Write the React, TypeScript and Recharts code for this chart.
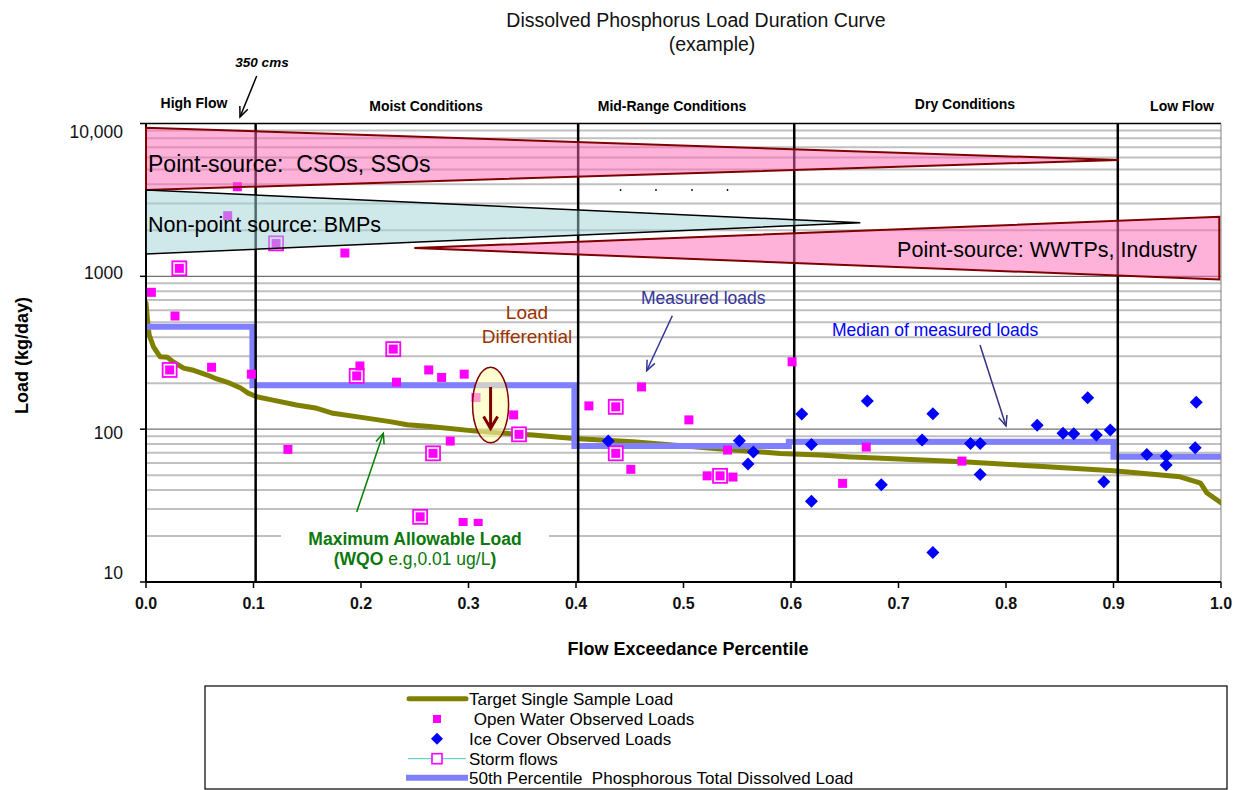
import React from 'react';
import { ComposedChart, Line, Scatter, XAxis, YAxis, ReferenceLine, ReferenceArea } from 'recharts';

const FONT = "'Liberation Sans', Arial, Helvetica, sans-serif";

// axis ticks
const X_TICKS = [0, 0.1, 0.2, 0.3, 0.4, 0.5, 0.6, 0.7, 0.8, 0.9, 1.0];
const Y_TICKS = [10, 100, 1000, 10000];
const MINOR_GRID = [20, 30, 40, 50, 60, 70, 80, 90, 200, 300, 400, 500, 600, 700, 800, 900, 2000, 3000, 4000, 5000, 6000, 7000, 8000, 9000];
const MAJOR_GRID = [100, 1000];

// flow zone boundaries
const ZONE_BOUNDS = [0.102, 0.402, 0.603, 0.904];
const ZONE_NAMES = ['High Flow', 'Moist Conditions', 'Mid-Range Conditions', 'Dry Conditions', 'Low Flow'];

// target single sample load (duration curve)
const TARGET_X = [0, 0.002, 0.003, 0.007, 0.013, 0.02, 0.025, 0.035, 0.043, 0.057, 0.066, 0.078, 0.088, 0.095, 0.103, 0.118, 0.14, 0.159, 0.174, 0.202, 0.227, 0.243, 0.264, 0.314, 0.36, 0.398, 0.453, 0.546, 0.59, 0.627, 0.652, 0.76, 0.838, 0.9, 0.962, 0.981, 0.987, 1.0];
const TARGET_Y = [669, 466, 413, 346, 298, 295, 276, 251, 244, 226, 213, 200, 186, 172, 163, 155, 144, 137, 127, 119, 112, 107, 104, 96, 91.5, 87, 82.7, 73, 69.4, 67.7, 66, 61.2, 56.7, 53.4, 48.8, 44.4, 38.2, 33];

// 50th percentile per zone
const MEDIAN_X = [0, 0.099, 0.3985, 0.598, 0.9, 1.0];
const MEDIAN_Y = [467, 194, 77.5, 82.7, 66, 66];

// open water observed loads
const OW_X = [0.005, 0.027, 0.022, 0.031, 0.061, 0.076, 0.085, 0.098, 0.121, 0.132, 0.185, 0.199, 0.196, 0.23, 0.233, 0.255, 0.263, 0.275, 0.267, 0.283, 0.296, 0.295, 0.309, 0.307, 0.342, 0.347, 0.412, 0.437, 0.437, 0.461, 0.451, 0.505, 0.522, 0.534, 0.546, 0.541, 0.601, 0.648, 0.67, 0.759];
const OW_Y = [786, 550, 244, 1128, 254, 2494, 3858, 229, 1644, 73.8, 1421, 259, 223, 334, 203, 26.7, 244, 218, 69.5, 83.6, 229, 24.5, 24.2, 161, 124, 92.5, 142, 140, 69.5, 189, 54.6, 115, 49.5, 49.5, 48.6, 73, 276, 44.2, 76.3, 61.8];

// storm flows
const STORM_X = [0.022, 0.031, 0.121, 0.196, 0.23, 0.255, 0.267, 0.347, 0.437, 0.437, 0.534];
const STORM_Y = [244, 1128, 1644, 223, 334, 26.7, 69.5, 92.5, 140, 69.5, 49.5];

// ice cover observed loads
const ICE_X = [0.43, 0.552, 0.565, 0.56, 0.61, 0.619, 0.619, 0.671, 0.684, 0.722, 0.732, 0.732, 0.767, 0.776, 0.776, 0.829, 0.853, 0.863, 0.876, 0.884, 0.891, 0.897, 0.931, 0.949, 0.949, 0.976, 0.977];
const ICE_Y = [83.6, 84, 70.8, 59.1, 125.6, 79.5, 33.8, 153, 43.3, 84.9, 126, 15.6, 80.7, 80.7, 50.6, 106, 93.9, 93.3, 160.5, 91.5, 45.3, 98.6, 68.4, 66.7, 58.2, 75.6, 150];

// source wedges (x, load)
const CSO_X = [0, 0.9045, 0];
const CSO_Y = [9387, 5769, 3671];
const NPS_X = [0, 0.6645, 0];
const NPS_Y = [3671, 2239, 1400];
const WWTP_X = [0.2496, 0.9984, 0.9984];
const WWTP_Y = [1531, 2450, 953];

// load differential ellipse extent
const DIFF_X = [0.3038, 0.3373];
const DIFF_Y = [81.5, 253.8];

const zip = (xs: number[], ys: number[]) => xs.map((x, i) => ({ x, y: ys[i] }));

const l10 = Math.log10;

function wedge(xs: number[], ys: number[], fill: string, stroke: string, sw: number) {
  const x1 = Math.min(...xs), x2 = Math.max(...xs);
  const y1 = Math.min(...ys), y2 = Math.max(...ys);
  return (p: any) => {
    const pts = xs
      .map((vx, i) => {
        const px = p.x + ((vx - x1) / (x2 - x1)) * p.width;
        const py = p.y + ((l10(y2) - l10(ys[i])) / (l10(y2) - l10(y1))) * p.height;
        return `${px},${py}`;
      })
      .join(' ');
    return <polygon points={pts} fill={fill} fillOpacity={0.5} stroke={stroke} strokeWidth={sw} strokeLinejoin="miter" />;
  };
}

function ellipseShape(p: any) {
  const cx = p.x + p.width / 2;
  const cy = p.y + p.height / 2;
  const top = p.y + p.height * 0.26;
  const bot = p.y + p.height * 0.81;
  return (
    <g>
      <ellipse cx={cx} cy={cy} rx={p.width / 2} ry={p.height / 2} fill="#ffffb0" fillOpacity={0.6} stroke="#800000" strokeWidth={1.5} />
      <line x1={cx} y1={top} x2={cx} y2={bot} stroke="#800000" strokeWidth={3} />
      <polyline points={`${cx - 7},${bot - 12} ${cx},${bot} ${cx + 7},${bot - 12}`} fill="none" stroke="#800000" strokeWidth={3} />
    </g>
  );
}

const Y_SHIFT: Record<number, number> = { 10000: 8, 1000: -3.5, 100: 4, 10: -9.5 };

function YTick(props: any) {
  const { x, y, payload } = props;
  const v = payload.value;
  return (
    <text x={x} y={y + (Y_SHIFT[v] ?? 0)} dy={6.3} textAnchor="end" fontSize={17.5} fontFamily={FONT} fill="#111">
      {v === 10000 ? '10,000' : String(v)}
    </text>
  );
}

function XTick(props: any) {
  const { x, y, payload } = props;
  return (
    <text x={x} y={y} dy={19} textAnchor="middle" fontSize={16} fontWeight="bold" fontFamily={FONT} fill="#111">
      {payload.value.toFixed(1)}
    </text>
  );
}

const square = (p: any) => <rect x={p.cx - 4.5} y={p.cy - 4.5} width={9} height={9} fill="#ff00ff" />;
const stormBox = (p: any) => <rect x={p.cx - 7} y={p.cy - 7} width={14} height={14} fill="#fff" stroke="#ff00ff" strokeWidth={1.8} />;
const diamond = (p: any) => (
  <polygon points={`${p.cx},${p.cy - 6.5} ${p.cx + 6.5},${p.cy} ${p.cx},${p.cy + 6.5} ${p.cx - 6.5},${p.cy}`} fill="#0000ff" />
);

function Arrow({ x1, y1, x2, y2, color, w = 1.5, head = 11 }: any) {
  const a = Math.atan2(y2 - y1, x2 - x1);
  const h1x = x2 - head * Math.cos(a - 0.4);
  const h1y = y2 - head * Math.sin(a - 0.4);
  const h2x = x2 - head * Math.cos(a + 0.4);
  const h2y = y2 - head * Math.sin(a + 0.4);
  return (
    <g stroke={color} strokeWidth={w} fill="none">
      <line x1={x1} y1={y1} x2={x2} y2={y2} />
      <polyline points={`${h1x},${h1y} ${x2},${y2} ${h2x},${h2y}`} />
    </g>
  );
}

const ZONE_LABEL_POS = [
  [194, 108],
  [426, 111],
  [672, 111],
  [965, 109],
  [1182, 111],
];

export default function App() {
  const target = zip(TARGET_X, TARGET_Y);
  const median = zip(MEDIAN_X, MEDIAN_Y);
  const openWater = zip(OW_X, OW_Y);
  const storm = zip(STORM_X, STORM_Y);
  const ice = zip(ICE_X, ICE_Y);

  const legendRows = [
    { y: 698.7, label: 'Target Single Sample Load', kind: 'target' },
    { y: 719, label: ' Open Water Observed Loads', kind: 'ow' },
    { y: 738.7, label: 'Ice Cover Observed Loads', kind: 'ice' },
    { y: 758.7, label: 'Storm flows', kind: 'storm' },
    { y: 777.7, label: '50th Percentile  Phosphorous Total Dissolved Load', kind: 'median' },
  ];

  return (
    <div style={{ position: 'absolute', left: 0, top: 0, width: 1239, height: 790, background: '#fff', fontFamily: FONT }}>
      <ComposedChart width={1239} height={790} margin={{ top: 123.5, right: 18, bottom: 178, left: 86 }}>
        <XAxis
          type="number"
          dataKey="x"
          domain={[0, 1]}
          ticks={X_TICKS}
          allowDataOverflow
          height={30}
          tickSize={6}
          tickMargin={2}
          tick={<XTick />}
          axisLine={{ stroke: '#000', strokeWidth: 2 }}
          tickLine={{ stroke: '#000', strokeWidth: 1.5 }}
        />
        <YAxis
          type="number"
          scale="log"
          domain={[10, 10000]}
          ticks={Y_TICKS}
          allowDataOverflow
          width={60}
          tickSize={6}
          tickMargin={17}
          tick={<YTick />}
          axisLine={{ stroke: '#000', strokeWidth: 2 }}
          tickLine={{ stroke: '#000', strokeWidth: 1.5 }}
        />
        {MINOR_GRID.map((v) => (
          <ReferenceLine key={'mg' + v} y={v} stroke="#c0c0c0" strokeWidth={2} zIndex={-100} />
        ))}
        {MAJOR_GRID.map((v) => (
          <ReferenceLine key={'Mg' + v} y={v} stroke="#707070" strokeWidth={1.3} zIndex={-90} />
        ))}
        <ReferenceLine y={10000} stroke="#000" strokeWidth={1.5} zIndex={-80} />
        <ReferenceLine x={1} stroke="#808080" strokeWidth={1} zIndex={-80} />
        <Line
          data={target}
          dataKey="y"
          type="linear"
          stroke="#808000"
          strokeWidth={5}
          strokeLinejoin="round"
          strokeLinecap="round"
          dot={false}
          activeDot={false}
          isAnimationActive={false}
          zIndex={400}
        />
        <Line
          data={median}
          dataKey="y"
          type="stepAfter"
          stroke="#8080ff"
          strokeWidth={6}
          dot={false}
          activeDot={false}
          isAnimationActive={false}
          zIndex={410}
        />
        {ZONE_BOUNDS.map((v) => (
          <ReferenceLine key={'z' + v} x={v} stroke="#000" strokeWidth={2.5} zIndex={450} />
        ))}
        <Scatter data={storm} dataKey="y" shape={stormBox} isAnimationActive={false} zIndex={600} />
        <Scatter data={openWater} dataKey="y" shape={square} isAnimationActive={false} zIndex={610} />
        <Scatter data={ice} dataKey="y" shape={diamond} isAnimationActive={false} zIndex={620} />
        <ReferenceArea
          x1={Math.min(...CSO_X)}
          x2={Math.max(...CSO_X)}
          y1={Math.min(...CSO_Y)}
          y2={Math.max(...CSO_Y)}
          shape={wedge(CSO_X, CSO_Y, '#ff66b3', '#800000', 2)}
          zIndex={700}
        />
        <ReferenceArea
          x1={Math.min(...NPS_X)}
          x2={Math.max(...NPS_X)}
          y1={Math.min(...NPS_Y)}
          y2={Math.max(...NPS_Y)}
          shape={wedge(NPS_X, NPS_Y, '#a0d4d8', '#000', 1.5)}
          zIndex={701}
        />
        <ReferenceArea
          x1={Math.min(...WWTP_X)}
          x2={Math.max(...WWTP_X)}
          y1={Math.min(...WWTP_Y)}
          y2={Math.max(...WWTP_Y)}
          shape={wedge(WWTP_X, WWTP_Y, '#ff66b3', '#800000', 2)}
          zIndex={702}
        />
        <ReferenceArea x1={DIFF_X[0]} x2={DIFF_X[1]} y1={DIFF_Y[0]} y2={DIFF_Y[1]} shape={ellipseShape} zIndex={710} />
      </ComposedChart>

      <svg width={1239} height={790} style={{ position: 'absolute', left: 0, top: 0, pointerEvents: 'none' }} fontFamily={FONT}>
        {/* titles */}
        <text x={696} y={27} textAnchor="middle" fontSize={19.5} fill="#111">
          Dissolved Phosphorus Load Duration Curve
        </text>
        <text x={712} y={51} textAnchor="middle" fontSize={19.5} fill="#111">
          (example)
        </text>

        {/* zone labels */}
        {ZONE_NAMES.map((n, i) => (
          <text key={n} x={ZONE_LABEL_POS[i][0]} y={ZONE_LABEL_POS[i][1]} textAnchor="middle" fontSize={14} fontWeight="bold" fill="#000">
            {n}
          </text>
        ))}
        <text x={262} y={67} textAnchor="middle" fontSize={13.5} fontStyle="italic" fontWeight="bold" fill="#000">
          350 cms
        </text>
        <Arrow x1={256.7} y1={76} x2={240} y2={117} color="#000" />

        {/* wedge labels */}
        <text x={148} y={171.5} fontSize={23} fill="#000" style={{ whiteSpace: 'pre' }}>
          {'Point-source:  CSOs, SSOs'}
        </text>
        <text x={148} y={231.5} fontSize={21.5} fill="#000">
          Non-point source: BMPs
        </text>
        <text x={1197} y={257} textAnchor="end" fontSize={21.5} fill="#000">
          Point-source: WWTPs, Industry
        </text>
        {[620.6, 656, 692, 727.5].map((x) => (
          <circle key={x} cx={x} cy={190} r={0.9} fill="#000" />
        ))}

        {/* annotations */}
        <text x={527} y={319.3} textAnchor="middle" fontSize={19} fill="#993300">
          Load
        </text>
        <text x={527} y={343.3} textAnchor="middle" fontSize={19} fill="#993300">
          Differential
        </text>
        <text x={641} y={304.3} fontSize={17.5} fill="#333399">
          Measured loads
        </text>
        <Arrow x1={672.3} y1={315.7} x2={646.7} y2={370.7} color="#333399" />
        <text x={832} y={336} fontSize={17.5} fill="#0000ff">
          Median of measured loads
        </text>
        <Arrow x1={980} y1={345} x2={1006} y2={426} color="#333380" />

        <rect x={281} y={526} width={268} height={46} fill="#fff" />
        <text x={415} y={545} textAnchor="middle" fontSize={17.5} fontWeight="bold" fill="#0a780a">
          Maximum Allowable Load
        </text>
        <text x={415} y={565} textAnchor="middle" fontSize={17.5} fill="#0a780a">
          <tspan fontWeight="bold">(WQO</tspan>
          <tspan> e.g,0.01 ug/L</tspan>
          <tspan fontWeight="bold">)</tspan>
        </text>
        <Arrow x1={356.7} y1={512} x2={383.3} y2={433.3} color="#008000" />

        {/* axis titles */}
        <text x={28} y={355.5} transform="rotate(-90, 28, 355.5)" textAnchor="middle" fontSize={18} fontWeight="bold" fill="#000">
          Load (kg/day)
        </text>
        <text x={688} y={655} textAnchor="middle" fontSize={18} fontWeight="bold" fill="#000">
          Flow Exceedance Percentile
        </text>

        {/* legend */}
        <rect x={205} y={686} width={1022} height={103} fill="#fff" stroke="#000" strokeWidth={1.2} />
        {legendRows.map((r) => (
          <g key={r.kind}>
            {r.kind === 'target' && <line x1={409} y1={r.y} x2={466} y2={r.y} stroke="#808000" strokeWidth={5} strokeLinecap="round" />}
            {r.kind === 'ow' && <rect x={433} y={r.y - 4} width={8} height={8} fill="#ff00ff" />}
            {r.kind === 'ice' && (
              <polygon points={`437,${r.y - 6} 443,${r.y} 437,${r.y + 6} 431,${r.y}`} fill="#0000ff" />
            )}
            {r.kind === 'storm' && (
              <g>
                <line x1={408} y1={r.y} x2={466} y2={r.y} stroke="#40c8c8" strokeWidth={1} />
                <rect x={432} y={r.y - 5} width={10} height={10} fill="#fff" stroke="#ff00ff" strokeWidth={1.6} />
              </g>
            )}
            {r.kind === 'median' && <line x1={406} y1={r.y} x2={468} y2={r.y} stroke="#8080ff" strokeWidth={6} />}
            <text x={469} y={r.y + 6} fontSize={17} fill="#000" style={{ whiteSpace: 'pre' }}>
              {r.label}
            </text>
          </g>
        ))}
      </svg>
    </div>
  );
}
